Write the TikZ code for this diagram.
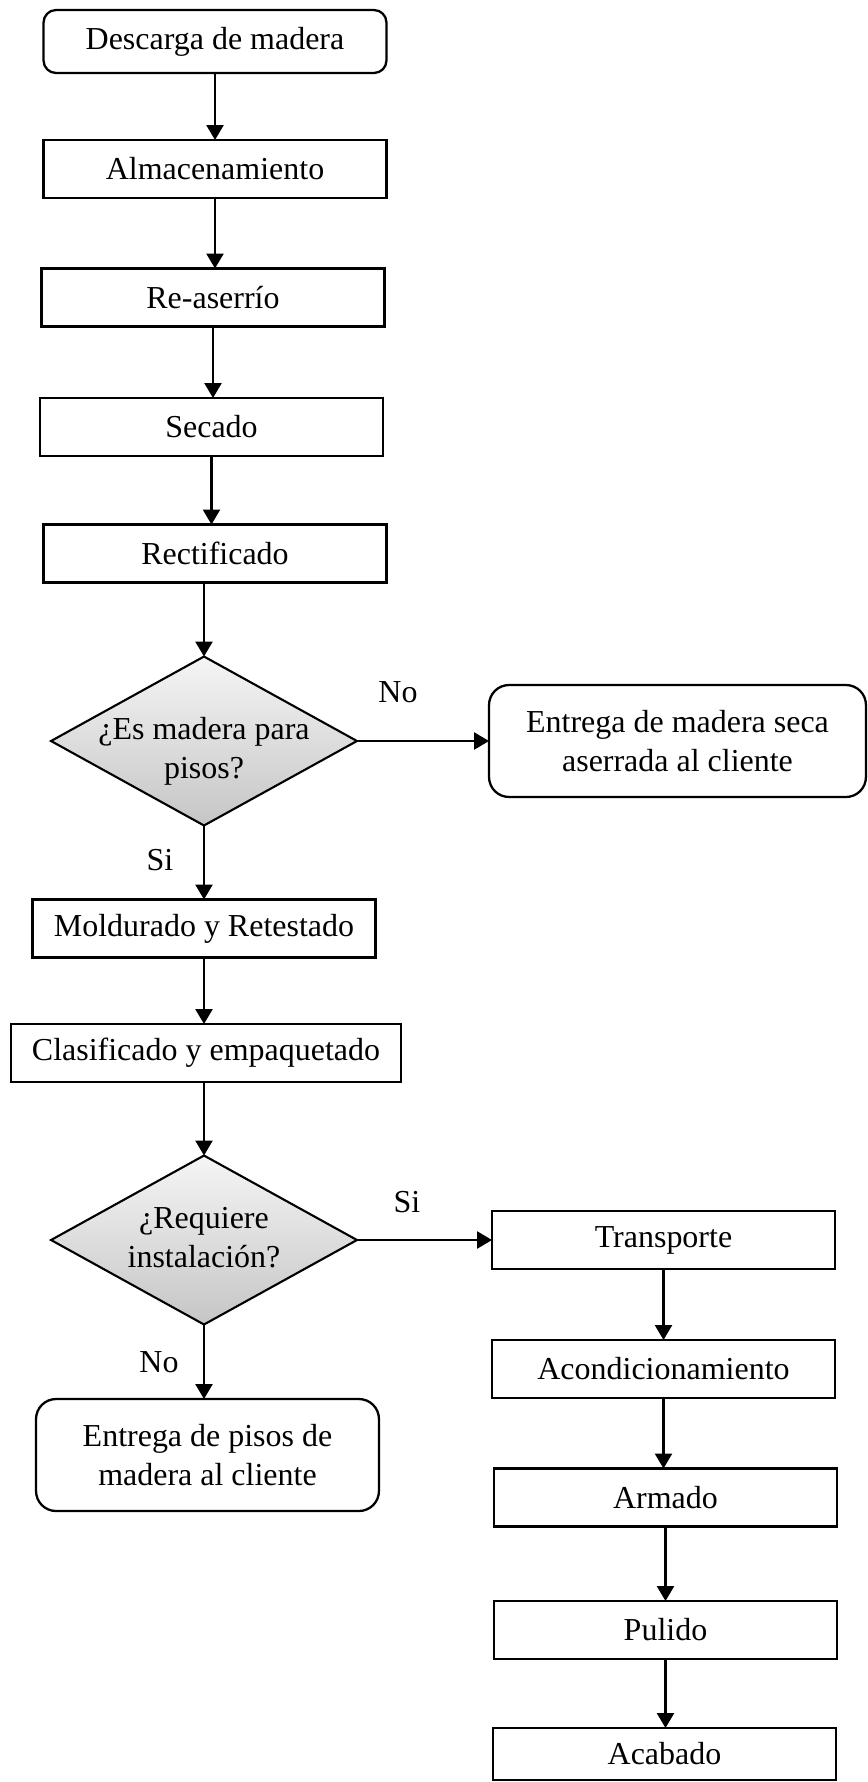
\documentclass[tikz,border=0pt]{standalone}
\usepackage{fontspec}
\setmainfont{Liberation Serif}
\usetikzlibrary{shapes.geometric, arrows.meta}

\begin{document}
\begin{tikzpicture}[x=0.02cm, y=-0.02cm,
    caja/.style={draw, line width=1.3pt, minimum width=6.86cm, minimum height=1.16cm,
        inner sep=0pt, outer sep=0pt, font=\fontsize{18.2pt}{22pt}\selectfont},
    cajaredonda/.style={caja, rounded corners=0.25cm},
    decision/.style={diamond, draw, line width=1.2pt, minimum width=6.12cm, minimum height=3.38cm,
        inner sep=0pt, outer sep=0pt, top color=gray!8, bottom color=gray!45,
        font=\fontsize{18.2pt}{22pt}\selectfont},
    flecha/.style={line width=1.4pt, -{Triangle[length=0.3cm, width=0.34cm]}},
    etiqueta/.style={inner sep=0pt, font=\fontsize{18.2pt}{22pt}\selectfont}]
    \useasboundingbox (0,0) rectangle (867,1782);

    % Proceso principal
    \node[cajaredonda, minimum height=1.26cm] (descarga) at (215,41.5) {Descarga de madera};
    \node[caja] (almacen) at (215,169) {Almacenamiento};
    \node[caja] (reaserrio) at (213,297.5) {Re-aserrío};
    \node[caja] (secado) at (211.5,427) {Secado};
    \node[caja] (rectif) at (215,553.5) {Rectificado};
    \draw[flecha] (descarga.south) -- (descarga.south |- almacen.north);
    \draw[flecha] (almacen.south) -- (almacen.south |- reaserrio.north);
    \draw[flecha] (reaserrio.south) -- (reaserrio.south |- secado.north);
    \draw[flecha] (secado.south) -- (secado.south |- rectif.north);

    % Madera para pisos
    \node[decision] (pisos) at (204,741)
        {\makebox[0pt]{\raisebox{-0.2cm}[\height][\depth]{\begin{tabular}{@{}c@{}}¿Es madera para\\pisos?\end{tabular}}}};
    \node[cajaredonda, rounded corners=0.4cm, minimum width=7.54cm, minimum height=2.24cm,
        align=center] (seca) at (677.5,741) {Entrega de madera seca\\aserrada al cliente};
    \node[etiqueta] (no1) at (398,692) {No};
    \node[etiqueta] (si1) at (160,860) {Si};
    \draw[flecha] (pisos.north |- rectif.south) -- (pisos.north);
    \draw[flecha] (pisos.east) -- (seca.west);

    \node[caja] (moldurado) at (204,928.5) {Moldurado y Retestado};
    \node[caja, minimum width=7.8cm] (clasif) at (206,1053) {Clasificado y empaquetado};
    \draw[flecha] (pisos.south) -- (pisos.south |- moldurado.north);
    \draw[flecha] (moldurado.south) -- (moldurado.south |- clasif.north);

    % Requiere instalacion
    \node[decision] (instal) at (204,1240)
        {\makebox[0pt]{\begin{tabular}{@{}c@{}}¿Requiere\\instalación?\end{tabular}}};
    \node[etiqueta] (si2) at (407,1202) {Si};
    \node[etiqueta] (no2) at (159,1362) {No};
    \node[cajaredonda, rounded corners=0.4cm, minimum height=2.24cm, align=center]
        (entpisos) at (207.5,1455) {Entrega de pisos de\\madera al cliente};
    \draw[flecha] (instal.north |- clasif.south) -- (instal.north);
    \draw[flecha] (instal.south) -- (instal.south |- entpisos.north);

    % Instalacion
    \node[caja] (transp) at (663.5,1240) {Transporte};
    \node[caja] (acond) at (663.5,1369) {Acondicionamiento};
    \node[caja] (armado) at (665.5,1497.5) {Armado};
    \node[caja] (pulido) at (665.5,1630) {Pulido};
    \node[caja, minimum height=1.04cm] (acabado) at (664.5,1754) {Acabado};
    \draw[flecha] (instal.east) -- (transp.west);
    \draw[flecha] (transp.south) -- (transp.south |- acond.north);
    \draw[flecha] (acond.south) -- (acond.south |- armado.north);
    \draw[flecha] (armado.south) -- (armado.south |- pulido.north);
    \draw[flecha] (pulido.south) -- (pulido.south |- acabado.north);
\end{tikzpicture}
\end{document}
